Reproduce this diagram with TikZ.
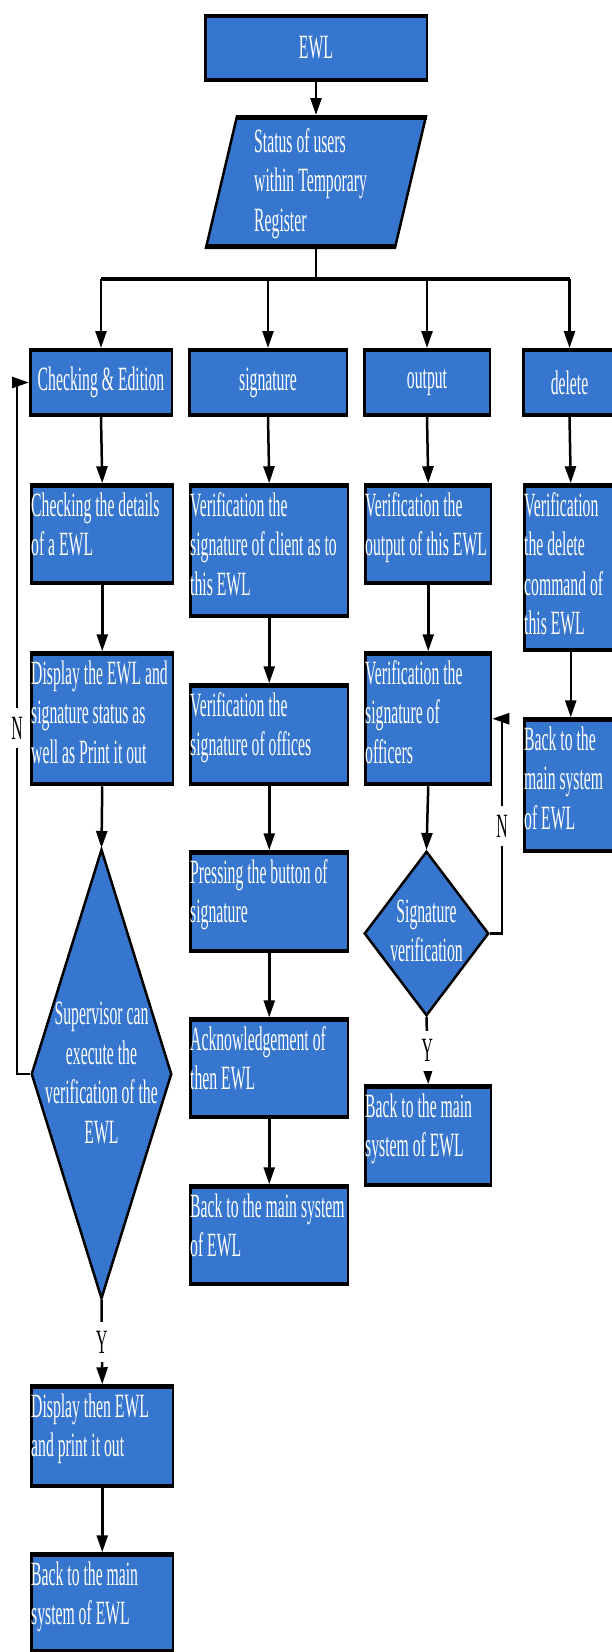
\documentclass[tikz,border=0pt]{standalone}
\usepackage{fontspec}
\setmainfont{Liberation Serif}[FakeStretch=0.462]
\usetikzlibrary{shapes.geometric,arrows.meta,calc}
\definecolor{boxblue}{RGB}{54,118,206}
\newcommand{\bodyfont}{\fontsize{34}{39.5}\selectfont}
\tikzset{
 box/.style={draw=black, line width=2.5pt, fill=boxblue, rectangle, inner sep=0pt, text=white, font=\bodyfont, anchor=north west,
   path picture={\draw[line width=6pt] (path picture bounding box.north west) -- (path picture bounding box.north east) (path picture bounding box.south west) -- (path picture bounding box.south east);}},
 txt/.style={text=white, inner sep=0pt, align=left, font=\bodyfont, anchor=north west},
 ctxt/.style={text=white, inner sep=0pt, align=center, font=\bodyfont},
 dia/.style={diamond, draw=black, line width=2.5pt, fill=boxblue, inner sep=0pt},
 conn/.style={line width=2.5pt, draw=black},
 arr/.style={conn, -{Triangle[length=17pt,width=11pt]}},
 lab/.style={fill=white, text=black, inner xsep=2pt, inner ysep=9pt, font=\bodyfont},
}
\newcommand{\bx}[6]{%
 \node[box, minimum width={#4pt-2.5pt}, minimum height={#5pt-2.5pt}] (#1) at ({#2+1.25},{#3+1.25}) {};
 \node[txt] (#1t) at ({#2+2},{#3+4}) {\rule{0pt}{30pt}#6};}
\begin{document}
\begin{tikzpicture}[x=1pt,y=-1pt]
\path[use as bounding box] (0,0) rectangle (612,1652);
\clip (0,0) rectangle (612,1652);

% top
\node[box, anchor=center, minimum width=221.5pt, minimum height=65.5pt] (ewl) at (316,48) {EWL};
\coordinate (pTL) at (237,116.25);
\coordinate (pTR) at (426,116.25);
\coordinate (pBR) at (395,247.75);
\coordinate (pBL) at (206,247.75);
\path[draw=black, line width=2.5pt, fill=boxblue, line join=miter] (pTL) -- (pTR) -- (pBR) -- (pBL) -- cycle;
\draw[line width=5pt] (236.5,117.5) -- (426.5,117.5) (205.5,246.5) -- (395.5,246.5);
\coordinate (stTop) at (316,115);
\coordinate (stBot) at (316,249);
\node[txt] (statust) at (254,122) {\rule{0pt}{30pt}Status of users\\within Temporary\\Register};

% row 1
\node[box, anchor=center, minimum width=141.5pt, minimum height=66.5pt] (c1a) at (101,382.5) {Checking \& Edition};
\node[box, anchor=center, minimum width=157.5pt, minimum height=66.5pt] (c2a) at (268,382.5) {signature};
\node[box, anchor=center, minimum width=125.5pt, minimum height=66.5pt] (c3a) at (427,382.5) {output};
\node[box, anchor=center, minimum width=92.5pt, minimum height=66.5pt] (c4a) at (569.5,382.5) {delete};

% other boxes
\bx{c1b}{29}{482}{144}{102}{Checking the details\\of a EWL}
\bx{c2b}{188}{482}{160}{135}{Verification the\\signature of client as to\\this EWL}
\bx{c3b}{363}{482}{128}{102}{Verification the\\output of this EWL}
\bx{c4b}{522}{482}{95}{169}{Verification\\the delete\\command of\\this EWL}
\bx{c1c}{29}{650}{144}{135}{Display the EWL and\\signature status as\\well as Print it out}
\bx{c2c}{188}{682}{160}{103}{Verification the\\signature of offices}
\bx{c3c}{363}{650}{128}{135}{Verification the\\signature of\\officers}
\bx{c4c}{522}{716}{95}{136}{Back to the\\main system\\of EWL}
\bx{c2d}{188}{849}{160}{103}{Pressing the button of\\signature}
\bx{c2e}{188}{1016}{160}{102}{Acknowledgement of\\then EWL}
\bx{c2f}{188}{1183}{160}{102}{Back to the main system\\of EWL}
\bx{c3e}{363}{1083}{128}{103}{Back to the main\\system of EWL}
\bx{c1e}{29}{1383}{144}{104}{Display then EWL\\and print it out}
\bx{c1f}{29}{1551}{144}{101}{Back to the main\\system of EWL}

% diamonds
\node[dia, minimum width=140.5pt, minimum height=449.5pt] (d1) at (101.5,1074) {};
\node[ctxt] (d1t) at (101.5,1073) {Supervisor can\\execute the\\verification of the\\EWL};
\node[dia, minimum width=124.5pt, minimum height=164.5pt] (d3) at (426.5,933.5) {};
\node[ctxt] (d3t) at (426.5,931) {Signature\\verification};

% connectors
\draw[arr] (ewl.south) -- (stTop);
\coordinate (brC) at (316,279);
\draw[conn] (stBot) -- (brC);
\draw[line width=4pt] (c1a.north |- brC) -- (c4a.north |- brC);
\draw[arr] (c1a.north |- brC) -- (c1a.north);
\draw[arr] (c2a.north |- brC) -- (c2a.north);
\draw[arr] (c3a.north |- brC) -- (c3a.north);
\draw[arr] (c4a.north |- brC) -- (c4a.north);

\draw[arr] (c1a.south) -- (c1b.north);
\draw[arr] (c1b.south) -- (c1c.north);
\draw[arr] (c1c.south) -- (d1.north);
\draw[arr] (d1.south) -- node[lab]{Y} (c1e.north);
\draw[arr] (c1e.south) -- (c1f.north);
\draw[arr] (d1.west) -- ++(-13,0) coordinate (n1) -- node[lab]{N} (n1 |- c1a.west) -- (c1a.west);

\draw[arr] (c2a.south) -- (c2b.north);
\draw[arr] (c2b.south) -- (c2c.north);
\draw[arr] (c2c.south) -- (c2d.north);
\draw[arr] (c2d.south) -- (c2e.north);
\draw[arr] (c2e.south) -- (c2f.north);

\draw[arr] (c3a.south) -- (c3b.north);
\draw[arr] (c3b.south) -- (c3c.north);
\draw[arr] (c3c.south) -- (d3.north);
\draw[arr] (d3.south) -- node[lab]{Y} (c3e.north);
\draw[arr] (d3.east) -- ++(12,0) coordinate (n3) -- node[lab]{N} (n3 |- c3c.east) -- (c3c.east);

\draw[arr] (c4a.south) -- (c4b.north);
\draw[arr] (c4b.south) -- (c4c.north);
\end{tikzpicture}
\end{document}
